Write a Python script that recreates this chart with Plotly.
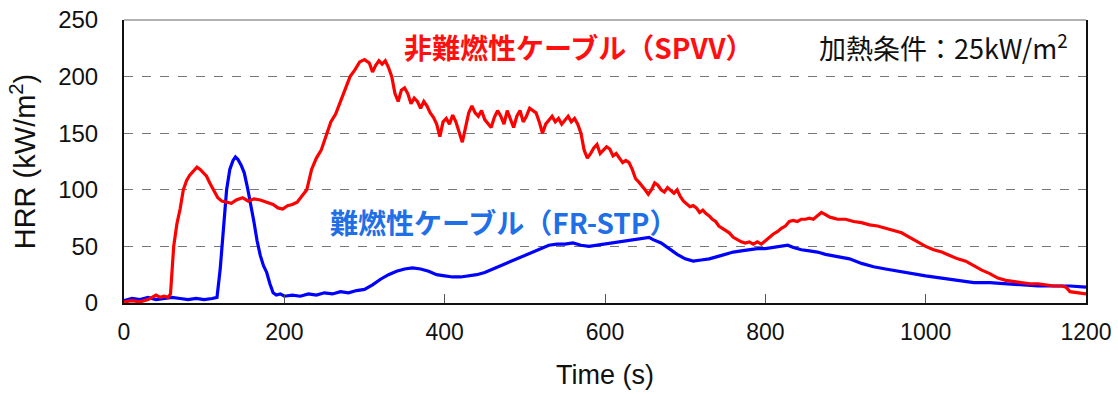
import plotly.graph_objects as go

# Non-flame-retardant cable (SPVV) - red
red_t = [0, 10, 20, 30, 40, 45, 50, 55, 58, 62, 66, 70, 74, 78, 82, 86, 91, 95, 99, 103, 107, 112, 117, 122, 128, 134, 140, 148, 155, 162, 170, 178, 186, 192, 198, 204, 210, 216, 222, 228, 234, 240, 246, 252, 258, 264, 270, 276, 282, 288, 294, 300, 306, 310, 314, 318, 322, 326, 330, 334, 338, 342, 346, 350, 354, 358, 362, 366, 370, 374, 378, 382, 386, 390, 394, 398, 402, 406, 410, 414, 418, 422, 426, 430, 434, 438, 442, 446, 450, 454, 458, 462, 466, 470, 474, 478, 482, 486, 490, 494, 498, 502, 506, 510, 514, 518, 522, 526, 530, 534, 538, 542, 546, 550, 554, 558, 562, 566, 570, 574, 578, 582, 586, 590, 594, 598, 602, 606, 610, 614, 618, 622, 626, 630, 634, 638, 642, 646, 650, 654, 658, 662, 666, 670, 674, 678, 682, 686, 690, 694, 698, 702, 706, 710, 714, 718, 722, 726, 730, 734, 738, 742, 746, 750, 755, 760, 765, 770, 775, 780, 785, 790, 795, 800, 805, 810, 815, 820, 825, 830, 835, 840, 845, 850, 855, 860, 865, 870, 875, 880, 885, 890, 900, 910, 920, 930, 940, 950, 960, 970, 980, 990, 1000, 1010, 1020, 1030, 1040, 1050, 1060, 1070, 1080, 1090, 1100, 1110, 1120, 1130, 1140, 1150, 1160, 1170, 1175, 1180, 1190, 1200]
red_v = [1, 2, 1, 3, 7, 5, 6, 5, 8, 50, 70, 83, 100, 108, 113, 116, 120, 118, 115, 112, 106, 100, 93, 90, 89, 88, 91, 93, 90, 92, 91, 89, 87, 84, 83, 86, 87, 89, 95, 100, 118, 128, 135, 148, 160, 167, 178, 188, 200, 206, 213, 215, 212, 204, 210, 214, 211, 214, 208, 200, 185, 178, 188, 190, 185, 176, 181, 178, 172, 178, 174, 168, 164, 158, 147, 160, 163, 158, 166, 160, 152, 142, 155, 168, 174, 168, 165, 170, 162, 158, 155, 164, 170, 165, 158, 170, 162, 155, 165, 170, 160, 165, 172, 170, 168, 160, 150, 158, 162, 165, 160, 163, 158, 162, 165, 160, 163, 158, 150, 135, 128, 132, 137, 140, 132, 135, 138, 136, 130, 132, 128, 124, 126, 124, 118, 110, 107, 104, 100, 96, 100, 106, 104, 100, 98, 102, 99, 97, 100, 94, 90, 87, 85, 86, 84, 80, 82, 79, 77, 74, 72, 68, 66, 64, 62, 58, 56, 54, 53, 54, 52, 54, 52, 55, 58, 61, 63, 66, 68, 72, 73, 72, 74, 74, 75, 74, 77, 80, 78, 76, 75, 74, 74, 72, 71, 69, 68, 66, 64, 62, 58, 54, 50, 47, 45, 42, 39, 37, 33, 29, 26, 22, 20, 19, 18, 17, 17, 16, 15, 15, 14, 10, 9, 8]

# Flame-retardant cable (FR-STP) - blue
blue_t = [0, 10, 20, 30, 40, 50, 60, 70, 80, 90, 100, 110, 116, 120, 124, 128, 132, 136, 139, 142, 146, 150, 154, 158, 162, 166, 170, 174, 178, 182, 186, 190, 195, 200, 210, 220, 230, 240, 250, 260, 270, 280, 290, 300, 310, 320, 330, 340, 350, 360, 370, 380, 390, 400, 410, 420, 430, 440, 450, 460, 470, 480, 490, 500, 510, 520, 530, 540, 550, 560, 570, 580, 590, 600, 610, 620, 630, 640, 650, 655, 660, 670, 680, 690, 700, 710, 720, 730, 740, 750, 760, 770, 780, 790, 800, 810, 820, 828, 835, 845, 855, 865, 875, 890, 905, 920, 935, 950, 965, 980, 1000, 1020, 1040, 1060, 1080, 1100, 1120, 1140, 1160, 1180, 1200]
blue_v = [2, 4, 3, 5, 3, 4, 5, 4, 3, 4, 3, 4, 5, 30, 70, 100, 118, 126, 129, 127, 122, 115, 102, 88, 72, 55, 42, 33, 27, 17, 9, 7, 8, 6, 7, 6, 8, 7, 9, 8, 10, 9, 11, 12, 16, 21, 25, 28, 30, 31, 30, 28, 25, 24, 23, 23, 24, 25, 27, 30, 33, 36, 39, 42, 45, 48, 51, 52, 52, 53, 51, 50, 51, 52, 53, 54, 55, 56, 57, 58, 56, 53, 48, 43, 39, 37, 38, 39, 41, 43, 45, 46, 47, 48, 48, 49, 50, 51, 49, 47, 46, 45, 43, 41, 39, 35, 32, 30, 28, 26, 24, 22, 20, 18, 18, 17, 16, 15, 15, 15, 14]

x_ticks = [0, 200, 400, 600, 800, 1000, 1200]
y_ticks = [0, 50, 100, 150, 200, 250]

red_label = "非難燃性ケーブル（SPVV）"
blue_label = "難燃性ケーブル（FR-STP）"
cond_label = "加熱条件：25kW/m<sup>2</sup>"

fig = go.Figure()
fig.add_trace(go.Scatter(x=blue_t, y=blue_v, mode="lines",
                         line=dict(color="#0000ff", width=3.2), showlegend=False))
fig.add_trace(go.Scatter(x=red_t, y=red_v, mode="lines",
                         line=dict(color="#ff0000", width=3.2), showlegend=False))

cjk = "Noto Sans CJK JP"
fig.add_annotation(x=0.472, y=0.905, xref="paper", yref="paper", text="<b>" + red_label + "</b>",
                   showarrow=False, font=dict(family=cjk, size=28, color="#ff1010"), xanchor="center", yanchor="middle")
fig.add_annotation(x=0.395, y=0.285, xref="paper", yref="paper", text="<b>" + blue_label + "</b>",
                   showarrow=False, font=dict(family=cjk, size=28, color="#1f6fe6"), xanchor="center", yanchor="middle")
fig.add_annotation(x=0.983, y=0.905, xref="paper", yref="paper", text=cond_label,
                   showarrow=False, font=dict(family=cjk, size=27, color="#111111"), xanchor="right", yanchor="middle")

# top border (gray)
fig.add_shape(type="line", xref="paper", yref="paper", x0=0, x1=1, y0=1, y1=1,
              line=dict(color="#999999", width=1.5))

fig.update_layout(
    width=1118, height=394,
    margin=dict(l=124, r=32, t=20, b=91, autoexpand=False),
    plot_bgcolor="white", paper_bgcolor="white",
    font=dict(family="Liberation Sans, Arial", color="#111111"),
)
fig.update_xaxes(range=[0, 1200], tickvals=x_ticks, ticktext=[str(v) for v in x_ticks],
                 showgrid=False, zeroline=False, showline=True, linecolor="#111111", linewidth=2,
                 ticks="inside", ticklen=9, tickcolor="#555555", tickfont=dict(size=23),
                 ticklabelstandoff=7, automargin=False, ticklabeloverflow="allow",
                 title=dict(text="Time (s)", font=dict(size=27), standoff=22))
fig.update_yaxes(range=[0, 250], tickvals=y_ticks, ticktext=[str(v) for v in y_ticks],
                 showgrid=True, gridcolor="#777777", griddash="dash", gridwidth=1,
                 zeroline=False, showline=True, linecolor="#111111", linewidth=2, mirror=True,
                 ticks="", tickfont=dict(size=24), ticklabelstandoff=19, automargin=False,
                 ticklabeloverflow="allow",
                 title=dict(text="HRR (kW/m<sup>2</sup>)", font=dict(size=29), standoff=14))

# remove the default page margin so the figure fills the window exactly
fig.write_html("out.html", config={"displayModeBar": False},
               post_script="document.body.style.margin='0';")
